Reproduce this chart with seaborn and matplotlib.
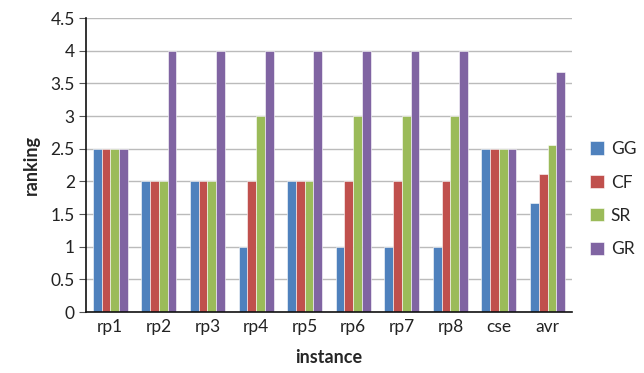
import matplotlib
matplotlib.use("Agg")
import matplotlib.pyplot as plt
import seaborn as sns
import pandas as pd

categories = ["rp1", "rp2", "rp3", "rp4", "rp5", "rp6", "rp7", "rp8", "cse", "avr"]
GG = [2.5, 2, 2, 1, 2, 1, 1, 1, 2.5, 1.67]
CF = [2.5, 2, 2, 2, 2, 2, 2, 2, 2.5, 2.11]
SR = [2.5, 2, 2, 3, 2, 3, 3, 3, 2.5, 2.56]
GR = [2.5, 4, 4, 4, 4, 4, 4, 4, 2.5, 3.67]
series = {"GG": GG, "CF": CF, "SR": SR, "GR": GR}
colors = ["#4F81BD", "#C0504D", "#9BBB59", "#8064A2"]
yticks = [0, 0.5, 1, 1.5, 2, 2.5, 3, 3.5, 4, 4.5]

rows = []
for name, vals in series.items():
    for c, v in zip(categories, vals):
        rows.append({"instance": c, "series": name, "ranking": v})
df = pd.DataFrame(rows)

sns.set_theme(style="white")
plt.rcParams["font.family"] = ["Lato", "DejaVu Sans"]

fig = plt.figure(figsize=(6.44, 3.73), dpi=100)
ax = fig.add_axes([0.1335, 0.1635, 0.7545, 0.788])
sns.barplot(data=df, x="instance", y="ranking", hue="series", palette=colors,
            width=0.72, ax=ax, edgecolor="white", linewidth=0.4, saturation=1)

ax.set_ylim(0, 4.5)
ax.set_yticks(yticks)
ax.set_yticklabels([f"{t:g}" for t in yticks], fontsize=12.5, color="#222222")
ax.set_xlim(-0.5, len(categories) - 0.5)
ax.tick_params(axis="x", labelsize=12.5, colors="#222222", length=0, pad=5)
ax.tick_params(axis="y", left=True, length=5, width=0.8, color="#555555", pad=3)
ax.yaxis.grid(True, color="#BBBBBB", linewidth=1)
ax.set_axisbelow(True)
for s in ["top", "right"]:
    ax.spines[s].set_visible(False)
ax.spines["left"].set_color("#111111")
ax.spines["left"].set_linewidth(1.2)
ax.spines["bottom"].set_color("#111111")
ax.spines["bottom"].set_linewidth(1.2)

ax.set_xlabel("instance", fontsize=13, fontweight="bold", labelpad=10)
ax.set_ylabel("ranking", fontsize=13, fontweight="bold", labelpad=8)

leg = ax.legend(loc="center left", bbox_to_anchor=(590 / 644, 0.466),
                bbox_transform=fig.transFigure, borderaxespad=0, borderpad=0,
                frameon=False, fontsize=12.5, handlelength=0.8, handleheight=0.8,
                labelspacing=1.0, handletextpad=0.4, title=None)

fig.savefig("out.png", dpi=100)
